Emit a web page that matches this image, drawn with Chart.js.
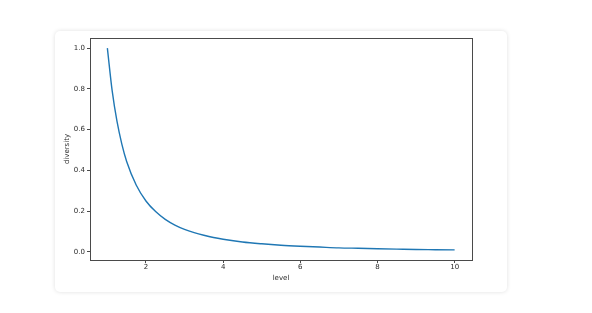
<!DOCTYPE html>
<html>
<head>
<meta charset="utf-8">
<script src="https://cdn.jsdelivr.net/npm/chart.js@4/dist/chart.umd.min.js"></script>
<style>
  html, body { margin: 0; padding: 0; background: #fff; }
  #card {
    position: absolute; left: 55px; top: 31px; width: 452px; height: 261px;
    background: #fff; border-radius: 5px;
    box-shadow: 0 0 4px rgba(0, 0, 0, 0.13);
  }
  #chart { position: absolute; left: 0; top: 0; }
</style>
</head>
<body>
<div id="card"></div>
<canvas id="chart" width="592" height="313"></canvas>
<script>
// valori (level -> diversity)
const levels = [1, 1.125, 1.25, 1.375, 1.5, 1.75, 2, 2.25, 2.5, 2.75, 3, 3.25, 3.5, 3.75, 4,
  4.5, 5, 5.5, 6, 6.5, 7, 7.5, 8, 8.5, 9, 9.5, 10];
const diversity = [1.0, 0.79, 0.64, 0.529, 0.444, 0.327, 0.25, 0.198, 0.16, 0.132, 0.111, 0.095, 0.082, 0.071, 0.0625,
  0.049, 0.04, 0.033, 0.028, 0.024, 0.02, 0.018, 0.016, 0.014, 0.012, 0.011, 0.01];

const xTicks = [2, 4, 6, 8, 10];
const yTicks = [0.0, 0.2, 0.4, 0.6, 0.8, 1.0];

const tickFont = { family: 'DejaVu Sans', size: 7 };
const textColor = '#2a2a2a';
const spineColor = '#4a4a4a';

// cornice su tutti e quattro i lati, come matplotlib
const frame = {
  id: 'frame',
  afterDraw(chart) {
    const { ctx, chartArea: a } = chart;
    ctx.save();
    ctx.strokeStyle = spineColor;
    ctx.lineWidth = 1;
    ctx.strokeRect(Math.round(a.left) + 0.5, Math.round(a.top) + 0.5,
      Math.round(a.right - a.left), Math.round(a.bottom - a.top));
    ctx.restore();
  }
};

const ctx = document.getElementById('chart').getContext('2d');

const chart = new Chart(ctx, {
  type: 'line',
  data: {
    datasets: [{
      data: levels.map((x, i) => ({ x, y: diversity[i] })),
      borderColor: '#1f77b4',
      borderWidth: 1.4,
      pointRadius: 0,
      cubicInterpolationMode: 'monotone',
      fill: false
    }]
  },
  options: {
    responsive: false,
    devicePixelRatio: 1,
    animation: false,
    layout: { padding: { left: 63, top: 38, right: 120, bottom: 31 } },
    plugins: { legend: { display: false }, tooltip: { enabled: false } },
    scales: {
      x: {
        type: 'linear',
        min: 0.55,
        max: 10.45,
        afterFit: s => { s.height = 22; },
        afterBuildTicks: s => { s.ticks = xTicks.map(v => ({ value: v })); },
        grid: { drawOnChartArea: false, drawTicks: true, tickLength: 3, color: spineColor },
        border: { display: false },
        ticks: { font: tickFont, color: textColor, padding: 0, maxRotation: 0,
          callback: v => String(v) },
        title: { display: true, text: 'level', font: tickFont, color: textColor, padding: 0 }
      },
      y: {
        type: 'linear',
        min: -0.0395,
        max: 1.0495,
        afterFit: s => { s.width = 27; },
        afterBuildTicks: s => { s.ticks = yTicks.map(v => ({ value: v })); },
        grid: { drawOnChartArea: false, drawTicks: true, tickLength: 3, color: spineColor },
        border: { display: false },
        ticks: { font: tickFont, color: textColor, padding: 2,
          callback: v => v.toFixed(1) },
        title: { display: true, text: 'diversity', font: tickFont, color: textColor, padding: 0 }
      }
    }
  },
  plugins: [frame]
});
</script>
</body>
</html>
